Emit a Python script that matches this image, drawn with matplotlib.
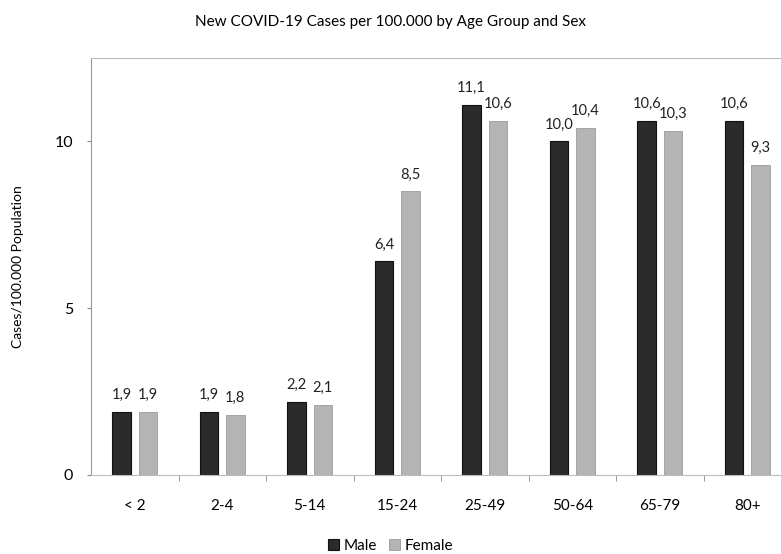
import matplotlib
matplotlib.use("Agg")
import matplotlib.pyplot as plt
import numpy as np

plt.rcParams["font.family"] = ["Lato", "DejaVu Sans"]

ages = ["< 2", "2-4", "5-14", "15-24", "25-49", "50-64", "65-79", "80+"]
male = [1.9, 1.9, 2.2, 6.4, 11.1, 10.0, 10.6, 10.6]
female = [1.9, 1.8, 2.1, 8.5, 10.6, 10.4, 10.3, 9.3]

fig = plt.figure(figsize=(7.81, 5.54), dpi=100)
ax = fig.add_axes([91 / 781, 1 - 475 / 554, 700 / 781, 417 / 554])

x = np.arange(len(ages))
w = 0.21
off = 0.15
bm = ax.bar(x - off, male, w, color="#2b2b2b", edgecolor="#111111", linewidth=0.8, label="Male")
bf = ax.bar(x + off, female, w, color="#b4b4b4", edgecolor="#9a9a9a", linewidth=0.6, label="Female")

def fmt(v):
    return f"{v:.1f}".replace(".", ",")

for rects, vals in ((bm, male), (bf, female)):
    for r, v in zip(rects, vals):
        ax.text(r.get_x() + r.get_width() / 2, v + 0.3, fmt(v), ha="center", va="bottom",
                fontsize=10.5, color="#222222")

ax.set_xlim(-0.5, len(ages) - 0.5)
ax.set_ylim(0, 12.5)
ax.set_yticks([0, 5, 10])
ax.set_xticks(x)
ax.set_xticklabels(ages, fontsize=11)
ax.set_xticks(np.arange(0.5, len(ages) - 0.5, 1), minor=True)
ax.tick_params(axis="x", which="major", length=0, pad=17)
ax.tick_params(axis="x", which="minor", length=4, color="#888888")
ax.tick_params(axis="y", labelsize=11.5, length=3, color="#888888", pad=10)

for s in ("top", "bottom"):
    ax.spines[s].set_color("#bbbbbb")
    ax.spines[s].set_linestyle((0, (2, 1)))
    ax.spines[s].set_linewidth(0.8)
ax.spines["left"].set_color("#999999")
ax.spines["left"].set_linewidth(0.8)
ax.spines["right"].set_visible(False)

ax.set_ylabel("Cases/100.000 Population", fontsize=10, labelpad=22)
fig.text(0.5, 1 - 22 / 554, "New COVID-19 Cases per 100.000 by Age Group and Sex",
         ha="center", va="center", fontsize=11)

fig.legend(handles=[bm, bf], loc="center", bbox_to_anchor=(0.5, 1 - 546 / 554), ncol=2,
           frameon=False, fontsize=11, handlelength=0.7, handleheight=0.7,
           handletextpad=0.3, columnspacing=0.8)

fig.savefig("out.png", dpi=100)
